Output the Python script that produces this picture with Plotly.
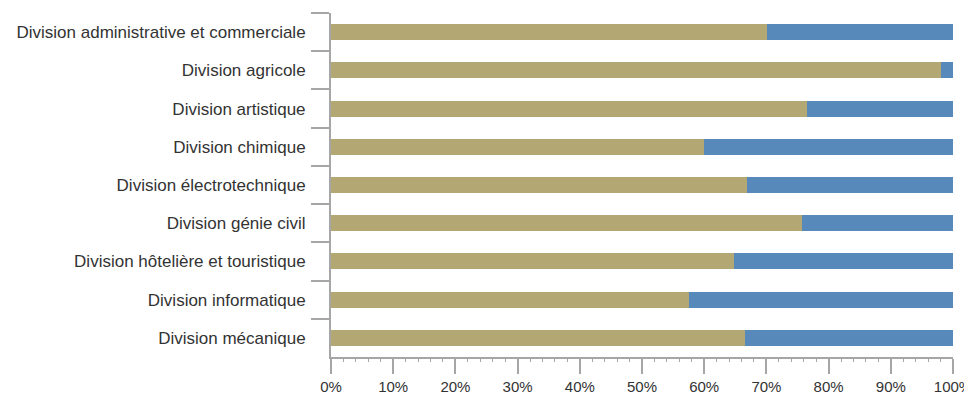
import plotly.graph_objects as go

categories = [
    "Division administrative et commerciale",
    "Division agricole",
    "Division artistique",
    "Division chimique",
    "Division électrotechnique",
    "Division génie civil",
    "Division hôtelière et touristique",
    "Division informatique",
    "Division mécanique",
]
share_a = [0.701, 0.981, 0.766, 0.600, 0.669, 0.758, 0.648, 0.576, 0.666]
share_b = [1 - v for v in share_a]

x_tickvals = [0, 0.1, 0.2, 0.3, 0.4, 0.5, 0.6, 0.7, 0.8, 0.9, 1.0]
x_ticktext = ["0%", "10%", "20%", "30%", "40%", "50%", "60%", "70%", "80%", "90%", "100%"]

tan = "#b3a874"
blue = "#5889bb"
axis_col = "#a6a6a6"
font_fam = "Liberation Sans, Arial, sans-serif"

fig = go.Figure()
fig.add_trace(go.Bar(y=categories, x=share_a, orientation="h", marker=dict(color=tan, line=dict(width=0)),
                     width=0.42, showlegend=False))
fig.add_trace(go.Bar(y=categories, x=share_b, orientation="h", marker=dict(color=blue, line=dict(width=0)),
                     width=0.42, showlegend=False))

# page body has an 8px margin, so the figure is offset by 8px
fig.update_layout(
    barmode="stack",
    width=964, height=387,
    margin=dict(l=323, r=19, t=5, b=38),
    plot_bgcolor="white", paper_bgcolor="white",
    font=dict(family=font_fam, color="#333333", size=17),
)
fig.update_yaxes(
    autorange="reversed", automargin=False,
    showline=True, linecolor=axis_col, linewidth=2,
    ticks="outside", ticklen=18, tickwidth=2, tickcolor=axis_col,
    tickson="boundaries", showgrid=False,
    ticklabelstandoff=20,
    tickfont=dict(size=17, family=font_fam, color="#333333"),
)
fig.update_xaxes(
    range=[0, 1], tickmode="array", tickvals=x_tickvals, ticktext=x_ticktext,
    automargin=False, ticklabeloverflow="allow",
    showline=True, linecolor=axis_col, linewidth=2,
    ticks="outside", ticklen=15, tickwidth=2, tickcolor=axis_col,
    showgrid=False, zeroline=False,
    minor=dict(dtick=0.02, tick0=0, ticks="outside", ticklen=3, tickwidth=1, tickcolor=axis_col, showgrid=False),
    tickfont=dict(size=15, family=font_fam, color="#333333"),
)

fig.write_html("out.html")
